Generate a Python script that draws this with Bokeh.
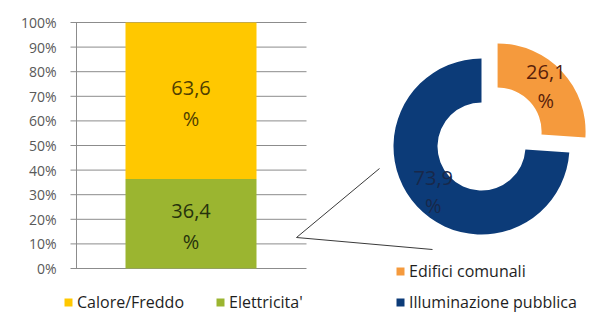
import numpy as np
from bokeh.plotting import figure
from bokeh.models import Range1d, FixedTicker, NumeralTickFormatter, Legend, LegendItem
from bokeh.core.properties import value
from bokeh.embed import file_html
from bokeh.resources import INLINE

# ---------------- data ----------------
bar_categories = ["Elettricita'", "Calore/Freddo"]
bar_values = [36.4, 63.6]
bar_colors = ["#9bb530", "#ffc800"]
bar_label_colors = ["#26320c", "#4f3f00"]

donut_categories = ["Edifici comunali", "Illuminazione pubblica"]
donut_values = [26.1, 73.9]
donut_colors = ["#f59a3d", "#0c3b78"]
donut_label_colors = ["#5a1f0a", "#18284a"]
donut_explode = [22, 0]

y_ticks = [0.0, 0.1, 0.2, 0.3, 0.4, 0.5, 0.6, 0.7, 0.8, 0.9, 1.0]

# ---------------- layout constants (page pixels) ----------------
FONT = "Open Sans"
W, H = 593, 314
FRAME_L, FRAME_R, FRAME_T, FRAME_B = 60, 593, 0, 314
AXIS_X = 76
TICK_X = 70
Y0_PX, Y1_PX = 268, 22           # pixel rows of 0% and 100%
scale = Y0_PX - Y1_PX
BAR_X, BAR_W = 190.5, 131
GRID_X1 = 306
DONUT_CX, DONUT_CY = 481, 146
R_OUT, R_IN = 88, 44
GRID_COLOR = "#8c8c8c"

p = figure(width=W, height=H, output_backend="svg", toolbar_location=None,
           x_axis_location=None, y_axis_location="left",
           x_range=Range1d(FRAME_L, FRAME_R),
           y_range=Range1d(-(FRAME_B - Y0_PX) / scale, 1 + (Y1_PX - FRAME_T) / scale),
           min_border_left=FRAME_L, min_border_right=0,
           min_border_top=0, min_border_bottom=0)
p.extra_y_ranges = {"px": Range1d(FRAME_B, FRAME_T)}
p.outline_line_color = None
p.background_fill_color = "white"
p.border_fill_color = "white"
p.xgrid.visible = False
p.ygrid.visible = False

ax = p.yaxis[0]
ax.ticker = FixedTicker(ticks=y_ticks)
ax.formatter = NumeralTickFormatter(format="0%")
ax.axis_line_color = None
ax.major_tick_line_color = None
ax.major_tick_out = 0
ax.major_tick_in = 0
ax.minor_tick_line_color = None
ax.major_label_text_font = FONT
ax.major_label_text_font_size = "14px"
ax.major_label_text_color = "#595959"
ax.major_label_standoff = 4

# gridlines with tick stubs (only across the bar chart area) and the axis line
p.segment(x0=[TICK_X] * len(y_ticks), x1=[GRID_X1] * len(y_ticks),
          y0=y_ticks, y1=y_ticks, line_color=GRID_COLOR, line_width=1)
p.segment(x0=[AXIS_X], x1=[AXIS_X], y0=[y_ticks[0]], y1=[y_ticks[-1]],
          line_color=GRID_COLOR, line_width=1)

# stacked 100% bar
fr = np.array(bar_values) / sum(bar_values)
tops = np.cumsum(fr)
bottoms = tops - fr
bar_renderers = []
for i, cat in enumerate(bar_categories):
    r = p.vbar(x=[BAR_X], width=BAR_W, bottom=[bottoms[i]], top=[tops[i]],
               fill_color=bar_colors[i], line_color=None)
    bar_renderers.append(r)
    mid = (bottoms[i] + tops[i]) / 2
    lab = f"{bar_values[i]:.1f}".replace(".", ",")
    p.text(x=[BAR_X], y=[mid], text=[lab], y_offset=-13, text_align="center",
           text_baseline="middle", text_font=value(FONT), text_font_size="20px",
           text_color=bar_label_colors[i])
    p.text(x=[BAR_X], y=[mid], text=["%"], y_offset=18, text_align="center",
           text_baseline="middle", text_font=value(FONT), text_font_size="20px",
           text_color=bar_label_colors[i])

# leader lines
p.segment(x0=[296, 296], y0=[237, 237], x1=[379, 432], y1=[168, 249],
          y_range_name="px", line_color="#3a3a3a", line_width=1)

# doughnut
dfr = np.array(donut_values) / sum(donut_values)
cum = np.cumsum(dfr)
starts = 90 - 360 * (cum - dfr)
ends = 90 - 360 * cum
donut_renderers = []
for i, cat in enumerate(donut_categories):
    mid = np.deg2rad((starts[i] + ends[i]) / 2)
    cx = DONUT_CX + donut_explode[i] * np.cos(mid)
    cy = DONUT_CY - donut_explode[i] * np.sin(mid)
    r = p.annular_wedge(x=[cx], y=[cy], inner_radius=R_IN, outer_radius=R_OUT,
                        start_angle=np.deg2rad(starts[i]), end_angle=np.deg2rad(ends[i]),
                        direction="clock", fill_color=donut_colors[i], line_color=None,
                        y_range_name="px")
    donut_renderers.append(r)
    rl = (R_IN + R_OUT) / 2
    lx = cx + rl * np.cos(mid)
    ly = cy - rl * np.sin(mid)
    lab = f"{donut_values[i]:.1f}".replace(".", ",")
    p.text(x=[lx], y=[ly - 14], text=[lab], text_align="center", text_baseline="middle",
           text_font=value(FONT), text_font_size="20px", text_color=donut_label_colors[i],
           y_range_name="px")
    p.text(x=[lx], y=[ly + 14], text=["%"], text_align="center", text_baseline="middle",
           text_font=value(FONT), text_font_size="20px", text_color=donut_label_colors[i],
           y_range_name="px")

# legends (one per entry, positioned individually; offsets relative to frame bottom-left)
ITEM_H = 21
legend_specs = [
    (bar_renderers[1], bar_categories[1], 63, 302),
    (bar_renderers[0], bar_categories[0], 215, 302),
    (donut_renderers[0], donut_categories[0], 395, 271),
    (donut_renderers[1], donut_categories[1], 395, 302),
]
for rend, label, gx, gy in legend_specs:
    loc = (gx - FRAME_L, FRAME_B - (gy + ITEM_H / 2))
    lg = Legend(items=[LegendItem(label=label, renderers=[rend])], location=loc,
                orientation="horizontal", padding=0, margin=0, spacing=0,
                border_line_color=None, background_fill_alpha=0,
                glyph_width=10, glyph_height=10, label_standoff=4, label_height=10,
                label_text_font=FONT, label_text_font_size="16px",
                label_text_color="#1e1e1e")
    p.add_layout(lg, "center")

open("out.html", "w").write(file_html(p, INLINE))
